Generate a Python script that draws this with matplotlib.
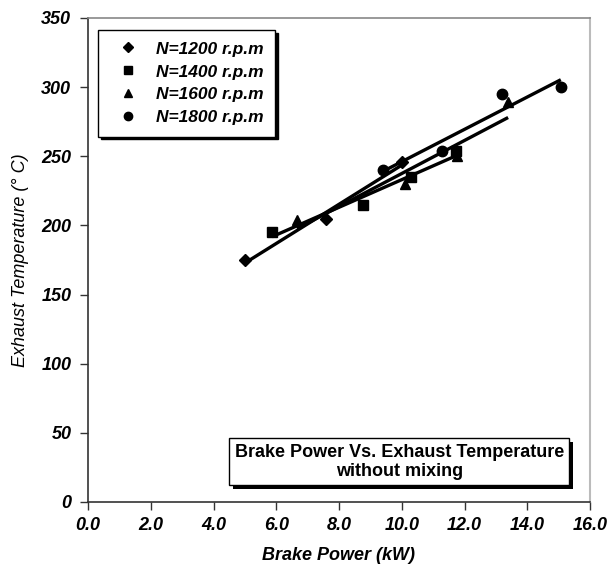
import numpy as np
import matplotlib
matplotlib.use("Agg")
import matplotlib.pyplot as plt

plt.rcParams['font.family'] = ['Liberation Sans', 'DejaVu Sans']

# Data
bp_1200 = [5.0, 7.6, 10.0]
et_1200 = [175, 205, 246]
bp_1400 = [5.87, 8.76, 10.3, 11.73]
et_1400 = [195, 215, 235, 254]
bp_1600 = [6.66, 10.1, 11.76, 13.39]
et_1600 = [204, 230, 250, 289]
bp_1800 = [9.4, 11.28, 13.2, 15.07]
et_1800 = [240, 254, 295, 300]

labels = ["N=1200 r.p.m", "N=1400 r.p.m", "N=1600 r.p.m", "N=1800 r.p.m"]
xticks = np.arange(0, 16.1, 2.0)
yticks = np.arange(0, 351, 50)

series = [(bp_1200, et_1200, 'D', 6), (bp_1400, et_1400, 's', 7),
          (bp_1600, et_1600, '^', 7), (bp_1800, et_1800, 'o', 7.5)]

fig = plt.figure(figsize=(6.11, 5.65), dpi=100)
ax = fig.add_axes([88/611, 1-502/565, (590-88)/611, (502-18)/565])

handles = []
for (x, y, m, ms), lab in zip(series, labels):
    x = np.array(x); y = np.array(y)
    ax.plot(x, y, linestyle='none', marker=m, markersize=ms, color='black')
    h, = ax.plot([], [], linestyle='none', marker=m, markersize=ms*0.8, color='black', label=lab)
    handles.append(h)
    k, b = np.polyfit(x, y, 1)
    xx = np.array([x.min(), x.max()])
    ax.plot(xx, k*xx + b, color='black', linewidth=2.4, solid_capstyle='butt')

ax.set_xlim(0, 16)
ax.set_ylim(0, 350)
ax.set_xticks(xticks)
ax.set_yticks(yticks)
ax.set_xticklabels([f"{v:.1f}" for v in xticks], fontsize=13, fontweight='bold', style='italic')
ax.set_yticklabels([f"{int(v)}" for v in yticks], fontsize=13, fontweight='bold', style='italic')
ax.tick_params(direction='out', length=6, width=1, colors='#333333', labelcolor='black', pad=6)
ax.xaxis.set_tick_params(pad=5)

for s in ['left', 'bottom']:
    ax.spines[s].set_color('#333333')
    ax.spines[s].set_linewidth(1.2)
ax.spines['top'].set_color('#888888')
ax.spines['right'].set_color('#bbbbbb')
ax.spines['top'].set_linewidth(1.2)
ax.spines['right'].set_linewidth(1.5)

ax.set_xlabel("Brake Power (kW)", fontsize=13, fontweight='bold', style='italic', labelpad=9)
ax.set_ylabel("Exhaust Temperature (° C)", fontsize=13, style='italic', labelpad=9)

leg = ax.legend(handles=handles, loc='upper left', bbox_to_anchor=(0.02, 0.975),
                frameon=True, fancybox=False, shadow={'color': 'black', 'alpha': 1},
                prop={'weight': 'bold', 'style': 'italic', 'size': 12.5},
                handletextpad=0.5, labelspacing=0.45, borderpad=0.65, handlelength=2.2,
                borderaxespad=0)
leg.get_frame().set_edgecolor('black')
leg.get_frame().set_linewidth(1.0)

ax.text(0.62, 0.083, "Brake Power Vs. Exhaust Temperature\nwithout mixing",
        transform=ax.transAxes, ha='center', va='center', fontsize=13, fontweight='bold',
        linespacing=1.15,
        bbox=dict(boxstyle='square,pad=0.3', facecolor='white', edgecolor='black', linewidth=1.0))
# shadow for annotation box
fig.canvas.draw()
txt = ax.texts[0]
bb = txt.get_bbox_patch().get_window_extent(fig.canvas.get_renderer())
inv = fig.transFigure.inverted()
(x0, y0), (x1, y1) = inv.transform([[bb.x0, bb.y0], [bb.x1, bb.y1]])
dx, dy = 4/611, 4/565
shadow = plt.Rectangle((x0+dx, y0-dy), x1-x0, y1-y0, transform=fig.transFigure,
                       facecolor='black', edgecolor='none', zorder=0)
fig.add_artist(shadow)
txt.set_zorder(5)
shadow.set_zorder(1)
ax.set_zorder(2)
ax.patch.set_alpha(0)

fig.savefig("out.png", dpi=100)
